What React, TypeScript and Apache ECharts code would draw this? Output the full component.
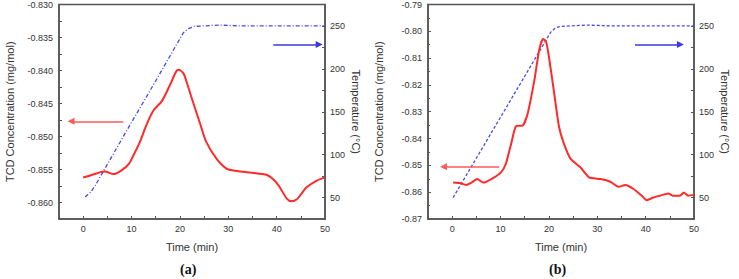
import React, { useEffect, useRef } from "react";
import * as echarts from "echarts";

// Panel (a) TCD concentration
const tcdATime = [0, 1.5, 3.6, 4.5, 6.3, 8, 9.4, 10.5, 11.8, 13, 14.5, 16.3, 18, 19.2, 19.7, 20.7, 21.5, 22.4, 24.2, 25.5, 27.6, 29.7, 31.5, 33.8, 36, 37.9, 39, 40.4, 42.1, 43.1, 44.2, 45, 46.2, 48.3, 50];
const tcdAValue = [-0.8562, -0.8559, -0.8554, -0.8553, -0.8557, -0.8551, -0.8542, -0.8527, -0.8507, -0.8484, -0.8461, -0.8446, -0.8421, -0.8402, -0.8399, -0.8404, -0.842, -0.8441, -0.8481, -0.8509, -0.8534, -0.8549, -0.8552, -0.8554, -0.8556, -0.8558, -0.8563, -0.8574, -0.8594, -0.8598, -0.8595, -0.8588, -0.8577, -0.8567, -0.8562];
// Panel (a) temperature
const tempATime = [0.4, 1.5, 2.5, 3.5, 9, 15, 20.7, 21.8, 23, 28, 33, 50];
const tempAValue = [50.7, 56, 64, 74, 128, 186, 242, 247, 249.5, 251, 250, 250];

// Panel (b) TCD concentration
const tcdBTime = [0.2, 1.6, 2.9, 4.0, 5.2, 6.4, 8.1, 10.1, 11.1, 12.2, 13.2, 14.6, 15.6, 17.0, 18.0, 18.8, 19.4, 20.0, 21.1, 22.1, 23.1, 24.5, 26.5, 28.3, 30.7, 32.7, 34.4, 35.8, 37.5, 39.2, 40.2, 41.6, 43.0, 44.7, 45.7, 47.1, 47.9, 48.8, 50];
const tcdBValue = [-0.8564, -0.8566, -0.8573, -0.8564, -0.8551, -0.8564, -0.8551, -0.8526, -0.8494, -0.8419, -0.8354, -0.8351, -0.8307, -0.8182, -0.8069, -0.8029, -0.8038, -0.8094, -0.8232, -0.8357, -0.8419, -0.8476, -0.8507, -0.8545, -0.8551, -0.8561, -0.858, -0.8573, -0.8588, -0.8613, -0.863, -0.862, -0.8613, -0.8605, -0.8613, -0.8613, -0.8601, -0.8613, -0.861];
// Panel (b) temperature
const tempBTime = [0.2, 20.4, 21.4, 22.5, 28, 33, 50];
const tempBValue = [50, 243, 248, 249.5, 251, 250, 250];

// Annotation arrows [xStart, xEnd, y]
const redArrowA = [8.3, -2.5, -0.8477];
const blueArrowA = [39.3, 48.8, 228.5];
const redArrowB = [9.7, -1.8, -0.8505];
const blueArrowB = [37.8, 47.2, 228.5];

const zip = (xs: number[], ys: number[]) => xs.map((x, i) => [x, ys[i]]);

const FONT = "Arial, 'Liberation Sans', sans-serif";
const AXIS_COLOR = "#555";
const TEXT_COLOR = "#333";

const arrowLine = (a: number[], color: string) => ({
  silent: true,
  symbol: ["none", "triangle"],
  symbolSize: 7,
  label: { show: false },
  lineStyle: { color, width: 1.5, type: "solid" },
  data: [[{ coord: [a[0], a[2]] }, { coord: [a[1], a[2]] }]],
});

const axisLineStyle = { show: true, onZero: false, lineStyle: { color: AXIS_COLOR, width: 1.5 } };
const tickStyle = { show: true, inside: true, length: 3, lineStyle: { color: AXIS_COLOR } };

export default function App() {
  const ref = useRef<HTMLDivElement>(null);
  useEffect(() => {
    if (!ref.current) return;
    const chart = echarts.init(ref.current, null, { renderer: "svg" });

    const xAxisBase = (gridIndex: number) => ({
      type: "value",
      gridIndex,
      min: -5,
      max: 50,
      interval: 5,
      name: "Time (min)",
      nameLocation: "middle",
      nameGap: 22,
      nameTextStyle: { fontFamily: FONT, fontSize: 11, color: TEXT_COLOR },
      axisLine: axisLineStyle,
      axisTick: tickStyle,
      splitLine: { show: false },
      axisLabel: {
        fontFamily: FONT,
        fontSize: 9,
        color: TEXT_COLOR,
        margin: 5,
        formatter: (v: number) => (Math.round(v) % 10 === 0 ? String(Math.round(v)) : ""),
      },
    });

    const rightAxis = (gridIndex: number) => ({
      type: "value",
      gridIndex,
      position: "right",
      min: 25,
      max: 275,
      interval: 25,
      name: "Temperature (°C)",
      nameLocation: "middle",
      nameRotate: -90,
      nameGap: 25,
      nameTextStyle: { fontFamily: FONT, fontSize: 11, color: TEXT_COLOR },
      axisLine: axisLineStyle,
      axisTick: tickStyle,
      splitLine: { show: false },
      axisLabel: {
        fontFamily: FONT,
        fontSize: 9,
        color: TEXT_COLOR,
        margin: 5,
        formatter: (v: number) => (Math.round(v) % 50 === 0 ? String(Math.round(v)) : ""),
      },
    });

    const leftName = {
      name: "TCD Concentration (mg/mol)",
      nameLocation: "middle",
      nameRotate: 90,
      nameGap: 44,
      nameTextStyle: { fontFamily: FONT, fontSize: 11, color: TEXT_COLOR },
      axisLine: axisLineStyle,
      splitLine: { show: false },
    };

    const option = {
      animation: false,
      backgroundColor: "#fff",
      grid: [
        { left: 59, top: 4, width: 266, height: 215, show: true, borderColor: AXIS_COLOR, borderWidth: 1.5, backgroundColor: "transparent" },
        { left: 428, top: 4, width: 266, height: 215, show: true, borderColor: AXIS_COLOR, borderWidth: 1.5, backgroundColor: "transparent" },
      ],
      xAxis: [xAxisBase(0), xAxisBase(1)],
      yAxis: [
        {
          type: "value",
          gridIndex: 0,
          position: "left",
          min: -0.8625,
          max: -0.83,
          interval: 0.0025,
          ...leftName,
          axisTick: tickStyle,
          axisLabel: {
            fontFamily: FONT,
            fontSize: 9,
            color: TEXT_COLOR,
            margin: 6,
            formatter: (v: number) => {
              const k = Math.round(v * 10000);
              return k % 50 === 0 ? v.toFixed(3) : "";
            },
          },
        },
        rightAxis(0),
        {
          type: "value",
          gridIndex: 1,
          position: "left",
          min: -0.87,
          max: -0.79,
          interval: 0.01,
          ...leftName,
          axisTick: tickStyle,
          minorTick: { show: true, splitNumber: 2, length: 2, lineStyle: { color: AXIS_COLOR } },
          axisLabel: {
            fontFamily: FONT,
            fontSize: 9,
            color: TEXT_COLOR,
            margin: 6,
            formatter: (v: number) => v.toFixed(2),
          },
        },
        rightAxis(1),
      ],
      series: [
        {
          type: "line",
          xAxisIndex: 0,
          yAxisIndex: 1,
          data: zip(tempATime, tempAValue),
          showSymbol: false,
          lineStyle: { color: "#4a4ae8", width: 1.3, type: [4, 2, 1, 2] },
          markLine: arrowLine(blueArrowA, "#3a3ae0"),
          z: 2,
        },
        {
          type: "line",
          xAxisIndex: 0,
          yAxisIndex: 0,
          data: zip(tcdATime, tcdAValue),
          showSymbol: false,
          smooth: 0.3,
          lineStyle: { color: "#ff2a2a", width: 2 },
          markLine: arrowLine(redArrowA, "#ff5a5a"),
          z: 3,
        },
        {
          type: "line",
          xAxisIndex: 1,
          yAxisIndex: 3,
          data: zip(tempBTime, tempBValue),
          showSymbol: false,
          lineStyle: { color: "#4a4ae8", width: 1.3, type: [3, 2] },
          markLine: arrowLine(blueArrowB, "#3a3ae0"),
          z: 2,
        },
        {
          type: "line",
          xAxisIndex: 1,
          yAxisIndex: 2,
          data: zip(tcdBTime, tcdBValue),
          showSymbol: false,
          smooth: 0.2,
          lineStyle: { color: "#ff2a2a", width: 2 },
          markLine: arrowLine(redArrowB, "#ff5a5a"),
          z: 3,
        },
      ],
      graphic: [
        {
          type: "text",
          left: 180,
          top: 262,
          style: { text: "(a)", font: "bold 14px 'Liberation Serif', serif", fill: "#111" },
        },
        {
          type: "text",
          left: 549,
          top: 262,
          style: { text: "(b)", font: "bold 14px 'Liberation Serif', serif", fill: "#111" },
        },
      ],
    };

    chart.setOption(option as any);
    return () => chart.dispose();
  }, []);

  return (
    <div
      ref={ref}
      style={{ position: "fixed", left: 0, top: 0, width: 739, height: 279, background: "#fff" }}
    />
  );
}
